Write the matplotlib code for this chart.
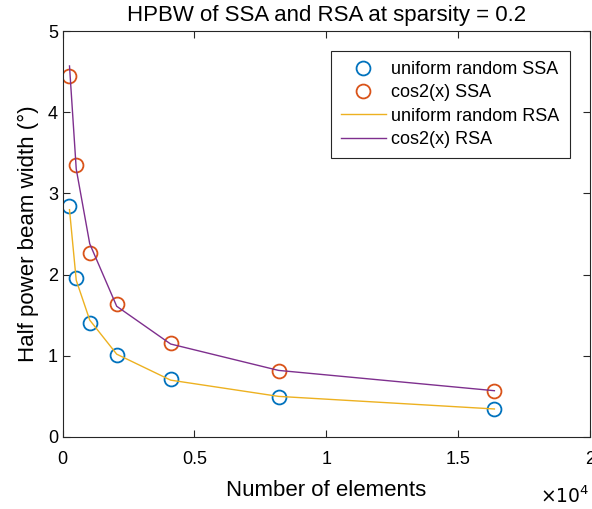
import numpy as np
import matplotlib.pyplot as plt

plt.rcParams['font.family'] = ['Liberation Sans', 'DejaVu Sans']

n_elements = np.array([256, 512, 1024, 2048, 4096, 8192, 16384])
uniform_ssa = [2.85, 1.96, 1.40, 1.01, 0.71, 0.49, 0.34]
cos2_ssa = [4.45, 3.35, 2.26, 1.64, 1.16, 0.81, 0.57]
uniform_rsa = [2.80, 1.93, 1.44, 1.02, 0.70, 0.50, 0.345]
cos2_rsa = [4.57, 3.30, 2.38, 1.61, 1.145, 0.82, 0.57]

blue = (0, 0.447, 0.741)
orange = (0.85, 0.325, 0.098)
yellow = (0.929, 0.694, 0.125)
purple = (0.494, 0.184, 0.556)

fig = plt.figure(figsize=(5.92, 5.09), dpi=100)
ax = fig.add_axes([0.106, 0.1415, 0.89, 0.7975])

ax.plot(n_elements, uniform_ssa, ls='', marker='o', mfc='none', mec=blue, mew=1.3, ms=10, label='uniform random SSA')
ax.plot(n_elements, cos2_ssa, ls='', marker='o', mfc='none', mec=orange, mew=1.3, ms=10, label='cos2(x) SSA')
ax.plot(n_elements, uniform_rsa, color=yellow, lw=1, label='uniform random RSA')
ax.plot(n_elements, cos2_rsa, color=purple, lw=1, label='cos2(x) RSA')

ax.set_xlim(0, 20000)
ax.set_ylim(0, 5)
ax.set_xticks([0, 5000, 10000, 15000, 20000])
ax.set_xticklabels(['0', '0.5', '1', '1.5', '2'])
ax.set_yticks([0, 1, 2, 3, 4, 5])
ax.tick_params(direction='in', top=True, right=True, labelsize=13, length=5, colors='0.15', labelcolor='black')
ax.tick_params(axis='x', pad=10)
for s in ax.spines.values():
    s.set_color('0.15')
    s.set_linewidth(0.8)

ax.text(1.0, -0.12, r'$\times10^4$', transform=ax.transAxes, ha='right', va='top', fontsize=13.5)

ax.set_xlabel('Number of elements', fontsize=16, labelpad=9)
ax.set_ylabel('Half power beam width (°)', fontsize=16, labelpad=6)
ax.set_title('HPBW of SSA and RSA at sparsity = 0.2', fontsize=16, pad=7)

leg = ax.legend(loc='upper right', bbox_to_anchor=(0.962, 0.951), fontsize=13, fancybox=False,
                edgecolor='0.15', framealpha=1, handlelength=2.5, handletextpad=0.3,
                borderaxespad=0, labelspacing=0.35, borderpad=0.55)
leg.get_frame().set_linewidth(0.8)

fig.savefig('out.png', dpi=100)
